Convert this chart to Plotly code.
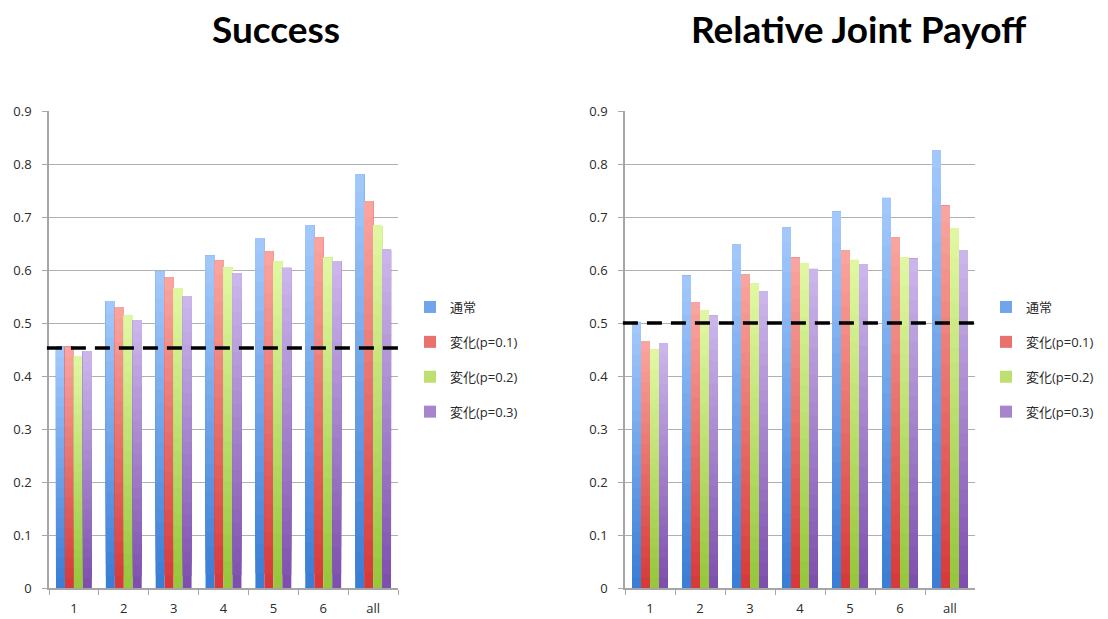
import plotly.graph_objects as go

# Categories and series
categories = ["1", "2", "3", "4", "5", "6", "all"]
series_names = ["通常", "変化(p=0.1)", "変化(p=0.2)", "変化(p=0.3)"]

success_normal = [0.455, 0.541, 0.597, 0.627, 0.660, 0.684, 0.780]
success_p01 = [0.455, 0.530, 0.586, 0.618, 0.635, 0.662, 0.730]
success_p02 = [0.437, 0.514, 0.566, 0.605, 0.616, 0.623, 0.684]
success_p03 = [0.447, 0.505, 0.551, 0.594, 0.604, 0.617, 0.639]
success_baseline = 0.453

payoff_normal = [0.502, 0.589, 0.648, 0.680, 0.710, 0.736, 0.826]
payoff_p01 = [0.466, 0.539, 0.592, 0.623, 0.637, 0.662, 0.721]
payoff_p02 = [0.450, 0.524, 0.575, 0.613, 0.619, 0.624, 0.679]
payoff_p03 = [0.462, 0.514, 0.560, 0.602, 0.611, 0.621, 0.637]
payoff_baseline = 0.5

titles = ["Success", "Relative Joint Payoff"]
y_ticks = [0, 0.1, 0.2, 0.3, 0.4, 0.5, 0.6, 0.7, 0.8, 0.9]

# bottom (dark) and top (light) colours of each series' gradient
grad_bottom = [(56, 124, 212), (214, 56, 56), (148, 198, 58), (124, 78, 172)]
grad_top = [(164, 202, 252), (250, 166, 160), (226, 248, 164), (204, 184, 236)]

W, H = 1108, 619
panel_px = [(49, 398), (625, 975)]
y_px = (111, 588)
legend_left_px = [410, 986]
title_center_px = [276, 859]

N_SEG = 24
BAR_W = 0.18

def lerp(c0, c1, t):
    return "rgb(%d,%d,%d)" % tuple(round(a + (b - a) * t) for a, b in zip(c0, c1))

fig = go.Figure()

panels = [
    ([success_normal, success_p01, success_p02, success_p03], success_baseline),
    ([payoff_normal, payoff_p01, payoff_p02, payoff_p03], payoff_baseline),
]

for p, (series, baseline) in enumerate(panels):
    xa = "x" if p == 0 else "x2"
    ya = "y" if p == 0 else "y2"
    leg = "legend" if p == 0 else "legend2"
    for s, values in enumerate(series):
        offset = -2 * BAR_W + s * BAR_W
        for k in range(N_SEG):
            frac = k / N_SEG
            t = (k + 0.5) / N_SEG
            fig.add_trace(go.Bar(
                x=categories,
                y=[v * (1 - frac) for v in values],
                base=[v * frac for v in values],
                width=BAR_W,
                offset=offset,
                marker=dict(color=lerp(grad_bottom[s], grad_top[s], t), line=dict(width=0)),
                name=series_names[s],
                legendgroup="p%d_s%d" % (p, s),
                showlegend=(k == N_SEG // 2),
                legend=leg,
                xaxis=xa,
                yaxis=ya,
                opacity=1,
                hoverinfo="skip",
            ))
    # dashed reference line
    fig.add_shape(
        type="line",
        xref=("x domain" if p == 0 else "x2 domain"),
        yref=ya,
        x0=-0.006, x1=1.018, y0=baseline, y1=baseline,
        line=dict(color="black", width=3.5, dash="15px,9px"),
        layer="above",
    )
    fig.add_annotation(
        text="<b>%s</b>" % titles[p],
        xref="paper", yref="paper",
        x=title_center_px[p] / W, y=1 - 29 / H,
        xanchor="center", yanchor="middle",
        showarrow=False,
        font=dict(family="Lato, Open Sans, sans-serif", size=37, color="#000"),
    )

tick_font = dict(family="Open Sans, Noto Sans CJK JP, sans-serif", size=13, color="#2a2a2a")
axis_common = dict(
    showline=True, linecolor="#a6a6a6", linewidth=1.5,
    ticks="outside", ticklen=5, tickcolor="#a6a6a6", tickwidth=1.2,
    tickfont=tick_font, automargin=False,
)

y_dom = [1 - y_px[1] / H, 1 - y_px[0] / H]
for p in range(2):
    sfx = "" if p == 0 else "2"
    fig.update_layout(**{
        "xaxis" + sfx: dict(
            domain=[panel_px[p][0] / W, panel_px[p][1] / W],
            type="category", categoryorder="array", categoryarray=categories,
            range=[-0.5, 6.5], tickson="boundaries", showgrid=False,
            anchor="y" + sfx, ticklabelstandoff=8, **axis_common,
        ),
        "yaxis" + sfx: dict(
            domain=y_dom, range=[0, 0.9], tickvals=y_ticks,
            ticktext=[("%g" % v) for v in y_ticks],
            showgrid=True, gridcolor="#b0b0b0", gridwidth=1,
            zeroline=False, anchor="x" + sfx, ticklabelstandoff=8,
            **axis_common,
        ),
    })

legend_common = dict(
    font=dict(family="Open Sans, Noto Sans CJK JP, sans-serif", size=13, color="#2a2a2a"),
    bgcolor="rgba(0,0,0,0)", traceorder="grouped", tracegroupgap=15,
    xanchor="left", yanchor="top", itemclick=False,
)
fig.update_layout(
    width=W, height=H,
    margin=dict(l=0, r=0, t=0, b=0, autoexpand=False),
    paper_bgcolor="white", plot_bgcolor="white",
    barmode="overlay",
    legend=dict(x=legend_left_px[0] / W, y=1 - 292 / H, **legend_common),
    legend2=dict(x=legend_left_px[1] / W, y=1 - 292 / H, **legend_common),
)

fig.write_html("out.html")
